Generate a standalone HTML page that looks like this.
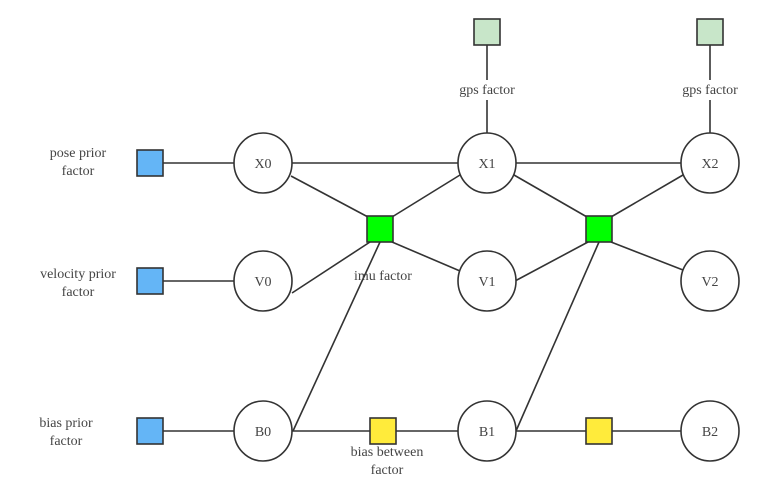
<!DOCTYPE html><html><head><style>body{margin:0;background:#fff}svg{display:block}text{font-family:"Liberation Serif",serif;font-size:14px;fill:#444;text-anchor:middle}</style></head><body>
<svg width="758" height="496" viewBox="0 0 758 496" xmlns="http://www.w3.org/2000/svg">
<g stroke="#333" stroke-width="1.6" fill="none">
<line x1="163" y1="163" x2="234" y2="163"/><line x1="163" y1="281" x2="234" y2="281"/><line x1="163" y1="431" x2="234" y2="431"/>
<line x1="292" y1="163" x2="458" y2="163"/><line x1="516" y1="163" x2="681" y2="163"/>
<line x1="291" y1="176" x2="368" y2="217"/><line x1="392" y1="217" x2="460" y2="175"/>
<line x1="292" y1="293" x2="370" y2="242"/><line x1="380" y1="242" x2="293" y2="431"/><line x1="392" y1="242" x2="460" y2="271"/>
<line x1="514" y1="175" x2="587" y2="217"/><line x1="611" y1="217" x2="683" y2="175"/>
<line x1="515" y1="281" x2="588" y2="242"/><line x1="599" y1="242" x2="516" y2="431"/><line x1="611" y1="242" x2="683" y2="270"/>
<line x1="292" y1="431" x2="458" y2="431"/><line x1="516" y1="431" x2="681" y2="431"/>
<line x1="487" y1="45" x2="487" y2="80"/><line x1="487" y1="100" x2="487" y2="133"/>
<line x1="710" y1="45" x2="710" y2="80"/><line x1="710" y1="100" x2="710" y2="133"/>
</g>
<g stroke="#333" stroke-width="1.6" fill="#fff">
<ellipse cx="263" cy="163" rx="29" ry="30"/><ellipse cx="487" cy="163" rx="29" ry="30"/><ellipse cx="710" cy="163" rx="29" ry="30"/>
<ellipse cx="263" cy="281" rx="29" ry="30"/><ellipse cx="487" cy="281" rx="29" ry="30"/><ellipse cx="710" cy="281" rx="29" ry="30"/>
<ellipse cx="263" cy="431" rx="29" ry="30"/><ellipse cx="487" cy="431" rx="29" ry="30"/><ellipse cx="710" cy="431" rx="29" ry="30"/>
</g>
<g stroke="#333" stroke-width="1.6">
<rect x="137" y="150" width="26" height="26" fill="#64b5f6"/><rect x="137" y="268" width="26" height="26" fill="#64b5f6"/><rect x="137" y="418" width="26" height="26" fill="#64b5f6"/>
<rect x="367" y="216" width="26" height="26" fill="#00ff00"/><rect x="586" y="216" width="26" height="26" fill="#00ff00"/>
<rect x="370" y="418" width="26" height="26" fill="#ffeb3b"/><rect x="586" y="418" width="26" height="26" fill="#ffeb3b"/>
<rect x="474" y="19" width="26" height="26" fill="#c8e6c9"/><rect x="697" y="19" width="26" height="26" fill="#c8e6c9"/>
</g>
<g>
<text x="263" y="168">X0</text><text x="487" y="168">X1</text><text x="710" y="168">X2</text>
<text x="263" y="286">V0</text><text x="487" y="286">V1</text><text x="710" y="286">V2</text>
<text x="263" y="436">B0</text><text x="487" y="436">B1</text><text x="710" y="436">B2</text>
<text x="78" y="157">pose prior</text><text x="78" y="175">factor</text>
<text x="78" y="278">velocity prior</text><text x="78" y="296">factor</text>
<text x="66" y="427">bias prior</text><text x="66" y="445">factor</text>
<text x="383" y="280">imu factor</text>
<text x="387" y="456">bias between</text><text x="387" y="474">factor</text>
<text x="487" y="94">gps factor</text><text x="710" y="94">gps factor</text>
</g>
</svg></body></html>
